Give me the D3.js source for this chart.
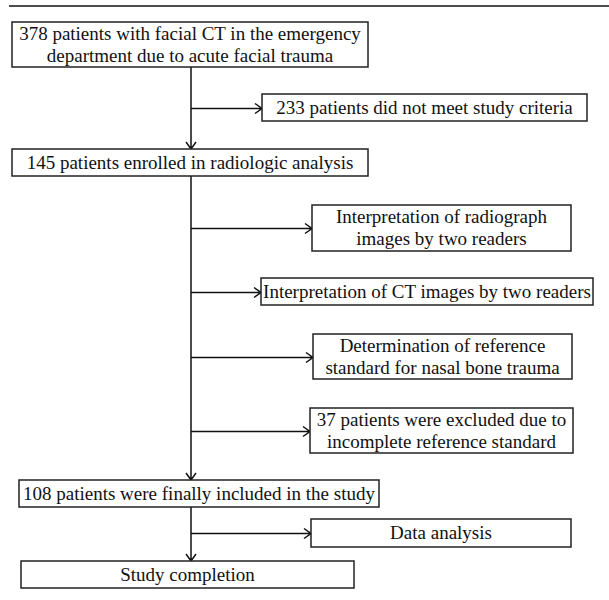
<!DOCTYPE html>
<html>
<head>
<meta charset="utf-8">
<script src="https://cdn.jsdelivr.net/npm/d3@7"></script>
<style>
  body { margin: 0; background: #fff; }
  svg text { font-family: "Liberation Serif", serif; fill: #111; }
</style>
</head>
<body>
<svg id="flow"></svg>
<script>
// flow steps (text only)
var mainSteps = [
    ["378 patients with facial CT in the emergency", "department due to acute facial trauma"],
    ["145 patients enrolled in radiologic analysis"],
    ["108 patients were finally included in the study"],
    ["Study completion"]
];
var sideSteps = [
    ["233 patients did not meet study criteria"],
    ["Interpretation of radiograph", "images by two readers"],
    ["Interpretation of CT images by two readers"],
    ["Determination of reference", "standard for nasal bone trauma"],
    ["37 patients were excluded due to", "incomplete reference standard"],
    ["Data analysis"]
];

var width = 609, height = 600;
var spineX = 191;
var lineH = 22, fontSize = 19;

// layout boxes (x0, x1, y0, y1)
var mainLayout = [
    [12, 368, 22, 67],
    [12, 368, 149, 176],
    [19, 379, 480, 507],
    [21, 354, 561, 588]
];
var sideLayout = [
    [262, 587, 94, 121],
    [312, 571, 205, 251],
    [261, 593, 278, 305],
    [313, 572, 334, 379],
    [310, 573, 408, 453],
    [311, 571, 519, 547]
];

var svg = d3.select("#flow")
    .attr("width", width)
    .attr("height", height);

// top rule
svg.append("line")
    .attr("x1", 9).attr("x2", width)
    .attr("y1", 6).attr("y2", 6)
    .attr("stroke", "#111")
    .attr("stroke-width", 1.5);

function drawBox(lines, b) {
    var g = svg.append("g");
    g.append("rect")
        .attr("x", b[0]).attr("y", b[2])
        .attr("width", b[1] - b[0])
        .attr("height", b[3] - b[2])
        .attr("fill", "#fff")
        .attr("stroke", "#222")
        .attr("stroke-width", 1.5);
    var cx = (b[0] + b[1]) / 2, cy = (b[2] + b[3]) / 2;
    var first = cy + 6 - (lines.length - 1) * lineH / 2;
    g.selectAll("text")
        .data(lines)
        .enter()
        .append("text")
        .attr("x", cx)
        .attr("y", function (d, i) { return first + i * lineH; })
        .attr("text-anchor", "middle")
        .style("font-size", fontSize + "px")
        .text(function (d) { return d; });
}

var path = d3.path();
// vertical spine segments between main boxes
for (var i = 0; i < mainLayout.length - 1; i++) {
    path.moveTo(spineX, mainLayout[i][3]);
    path.lineTo(spineX, mainLayout[i + 1][2]);
    // down arrowhead
    path.moveTo(spineX - 5, mainLayout[i + 1][2] - 7);
    path.lineTo(spineX, mainLayout[i + 1][2]);
    path.lineTo(spineX + 5, mainLayout[i + 1][2] - 7);
}
// side branches
sideLayout.forEach(function (b) {
    var y = Math.round((b[2] + b[3]) / 2) + 0.5;
    path.moveTo(spineX, y);
    path.lineTo(b[0], y);
    path.moveTo(b[0] - 7, y - 5);
    path.lineTo(b[0], y);
    path.lineTo(b[0] - 7, y + 5);
});

svg.append("path")
    .attr("d", path.toString())
    .attr("fill", "none")
    .attr("stroke", "#111")
    .attr("stroke-width", 1.5);

mainSteps.forEach(function (lines, i) { drawBox(lines, mainLayout[i]); });
sideSteps.forEach(function (lines, i) { drawBox(lines, sideLayout[i]); });
</script>
</body>
</html>
